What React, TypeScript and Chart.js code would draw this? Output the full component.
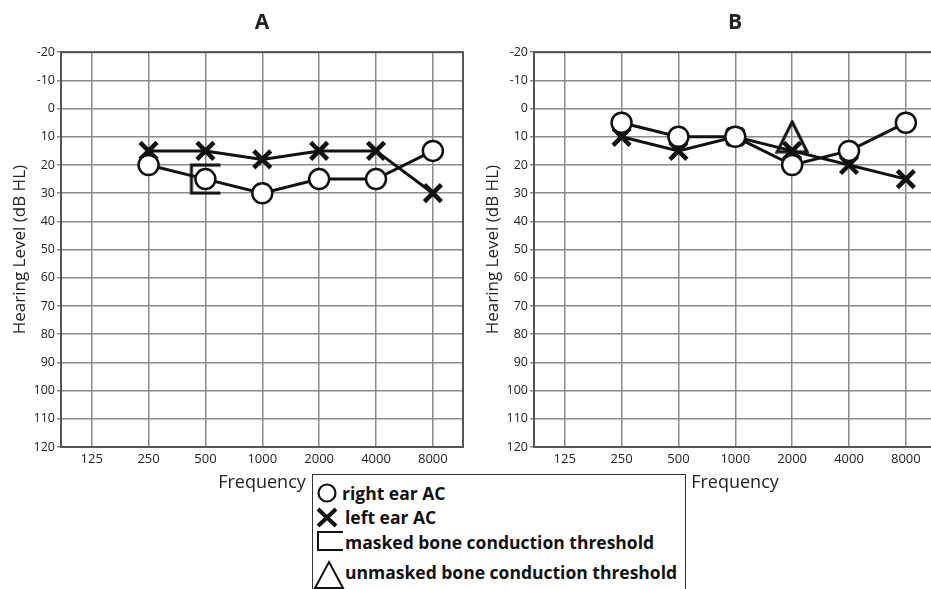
import React, { useEffect, useRef } from 'react';
import { Chart, registerables } from 'chart.js';

Chart.register(...registerables);

// ---- Data ----
const frequencies = ['125', '250', '500', '1000', '2000', '4000', '8000'];

// Panel A (dB HL)
const aRightEarAC = [null, 20, 25, 30, 25, 25, 15];
const aLeftEarAC = [null, 15, 15, 18, 15, 15, 30];
const aMaskedBone = [null, null, 25, null, null, null, null];
const aUnmaskedBone = [null, null, null, null, null, null, null];

// Panel B (dB HL)
const bRightEarAC = [null, 5, 10, 10, 20, 15, 5];
const bLeftEarAC = [null, 10, 15, 10, 15, 20, 25];
const bMaskedBone = [null, null, null, null, null, null, null];
const bUnmaskedBone = [null, null, null, null, 10, null, null];

const yMin = -20;
const yMax = 120;
const yStep = 10;

const FONT = "'Open Sans', 'DejaVu Sans', sans-serif";
const TEXT = '#222';

function toPoints(values: (number | null)[]) {
  const pts: { x: number; y: number }[] = [];
  values.forEach((v, i) => {
    if (v !== null && v !== undefined) pts.push({ x: i, y: v });
  });
  return pts;
}

function makeBracket(): HTMLCanvasElement {
  const c = document.createElement('canvas');
  c.width = 34;
  c.height = 32;
  const ctx = c.getContext('2d')!;
  ctx.strokeStyle = '#111';
  ctx.lineWidth = 3;
  ctx.beginPath();
  ctx.moveTo(32, 2);
  ctx.lineTo(3, 2);
  ctx.lineTo(3, 30);
  ctx.lineTo(32, 30);
  ctx.stroke();
  return c;
}

function makeTriangle(): HTMLCanvasElement {
  const c = document.createElement('canvas');
  c.width = 34;
  c.height = 34;
  const ctx = c.getContext('2d')!;
  ctx.strokeStyle = '#111';
  ctx.lineWidth = 3;
  ctx.lineJoin = 'miter';
  ctx.beginPath();
  ctx.moveTo(17, 2);
  ctx.lineTo(32, 32);
  ctx.lineTo(2, 32);
  ctx.closePath();
  ctx.stroke();
  return c;
}

const framePlugin = {
  id: 'frame',
  beforeDatasetsDraw(chart: any) {
    const { ctx, chartArea } = chart;
    ctx.save();
    ctx.strokeStyle = '#555';
    ctx.lineWidth = 2;
    ctx.strokeRect(chartArea.left, chartArea.top, chartArea.right - chartArea.left, chartArea.bottom - chartArea.top);
    ctx.restore();
  },
};

function buildConfig(
  title: string,
  right: (number | null)[],
  left: (number | null)[],
  masked: (number | null)[],
  unmasked: (number | null)[],
  padRight: number
): any {
  const bracket = makeBracket();
  const triangle = makeTriangle();
  return {
    type: 'line',
    data: {
      datasets: [
        {
          label: 'right ear AC',
          data: toPoints(right),
          borderColor: '#111',
          borderWidth: 3,
          pointStyle: 'circle',
          pointRadius: 10,
          pointBorderWidth: 2.5,
          pointBackgroundColor: '#fff',
          pointBorderColor: '#111',
          order: 0,
        },
        {
          label: 'left ear AC',
          data: toPoints(left),
          borderColor: '#111',
          borderWidth: 3,
          pointStyle: 'crossRot',
          pointRadius: 12,
          pointBorderWidth: 4.5,
          pointBorderColor: '#111',
          order: 1,
        },
        {
          label: 'masked bone conduction threshold',
          data: toPoints(masked),
          showLine: false,
          pointStyle: bracket,
          order: 2,
        },
        {
          label: 'unmasked bone conduction threshold',
          data: toPoints(unmasked),
          showLine: false,
          pointStyle: triangle,
          order: 2,
        },
      ],
    },
    options: {
      responsive: false,
      animation: false,
      layout: { autoPadding: false, padding: { left: 0, right: padRight, top: 0, bottom: 0 } },
      plugins: {
        legend: { display: false },
        tooltip: { enabled: false },
        title: {
          display: true,
          text: title,
          fullSize: false,
          color: TEXT,
          font: { family: FONT, size: 21, weight: 'bold' },
          padding: { top: 10, bottom: 17 },
        },
      },
      scales: {
        x: {
          type: 'linear',
          min: -0.54,
          max: 6.53,
          afterBuildTicks: (scale: any) => {
            scale.ticks = frequencies.map((_, i) => ({ value: i }));
          },
          afterFit: (scale: any) => {
            scale.height = 47;
            scale.paddingLeft = 0;
            scale.paddingRight = 0;
          },
          ticks: {
            callback: (v: any) => frequencies[v] ?? '',
            color: TEXT,
            font: { family: FONT, size: 13 },
            padding: 4,
            maxRotation: 0,
            autoSkip: false,
          },
          grid: { color: '#8a8a8a', lineWidth: 1.5, drawTicks: false },
          border: { color: '#555', width: 2 },
          title: {
            display: true,
            text: 'Frequency',
            color: TEXT,
            font: { family: FONT, size: 18 },
            padding: { top: 0, bottom: 0 },
          },
        },
        y: {
          type: 'linear',
          reverse: true,
          min: yMin,
          max: yMax,
          afterFit: (scale: any) => {
            scale.width = 61;
          },
          ticks: {
            stepSize: yStep,
            color: TEXT,
            font: { family: FONT, size: 12.5 },
            padding: 2,
          },
          grid: { color: '#8a8a8a', lineWidth: 1.5, drawTicks: true, tickLength: 4 },
          border: { color: '#555', width: 2 },
          title: {
            display: true,
            text: 'Hearing Level (dB HL)',
            color: TEXT,
            font: { family: FONT, size: 17 },
            padding: { top: 10, bottom: 0 },
          },
        },
      },
    },
    plugins: [framePlugin],
  };
}

const legendText: React.CSSProperties = {
  position: 'absolute',
  fontFamily: FONT,
  fontWeight: 700,
  fontSize: 17.5,
  lineHeight: '20px',
  color: '#111',
  whiteSpace: 'nowrap',
};

export default function App() {
  const aRef = useRef<HTMLCanvasElement>(null);
  const bRef = useRef<HTMLCanvasElement>(null);

  useEffect(() => {
    const ca = new Chart(aRef.current!, buildConfig('A', aRightEarAC, aLeftEarAC, aMaskedBone, aUnmaskedBone, 7));
    const cb = new Chart(bRef.current!, buildConfig('B', bRightEarAC, bLeftEarAC, bMaskedBone, bUnmaskedBone, 10));
    return () => {
      ca.destroy();
      cb.destroy();
    };
  }, []);

  return (
    <div
      style={{
        position: 'fixed',
        left: 0,
        top: 0,
        width: 931,
        height: 589,
        overflow: 'hidden',
        background: '#fff',
      }}
    >
      <canvas ref={aRef} width={470} height={494} style={{ position: 'absolute', left: 0, top: 0 }} />
      <canvas ref={bRef} width={473} height={494} style={{ position: 'absolute', left: 473, top: 0 }} />
      <div
        style={{
          position: 'absolute',
          left: 312,
          top: 474,
          width: 374,
          height: 140,
          border: '1.5px solid #333',
          boxSizing: 'border-box',
          background: '#fff',
        }}
      >
        <svg width={40} height={140} style={{ position: 'absolute', left: 0, top: 0 }}>
          <circle cx={14} cy={18} r={8.5} fill="#fff" stroke="#111" strokeWidth={2.2} />
          <line x1={5} y1={34} x2={23} y2={51} stroke="#111" strokeWidth={4} />
          <line x1={23} y1={34} x2={5} y2={51} stroke="#111" strokeWidth={4} />
          <polyline points="30,57 5,57 5,75 30,75" fill="none" stroke="#111" strokeWidth={2} />
          <polygon points="16,87 30,113 2,113" fill="none" stroke="#111" strokeWidth={2} />
        </svg>
        <div style={{ ...legendText, left: 29, top: 8 }}>right ear AC</div>
        <div style={{ ...legendText, left: 32, top: 32 }}>left ear AC</div>
        <div style={{ ...legendText, left: 32, top: 57 }}>masked bone conduction threshold</div>
        <div style={{ ...legendText, left: 32, top: 87 }}>unmasked bone conduction threshold</div>
      </div>
    </div>
  );
}
